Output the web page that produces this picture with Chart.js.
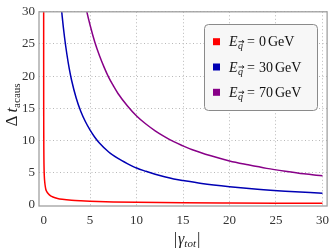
<!DOCTYPE html>
<html>
<head>
  <meta charset="UTF-8">
  <title>Delta t acaus</title>
  <script src="https://cdn.jsdelivr.net/npm/chart.js"></script>
  <style>
    html, body { margin: 0; padding: 0; background: #fff; }
    #wrap { width: 336px; height: 250px; }
  </style>
</head>
<body>
  <div id="wrap"><canvas id="grafico" width="336" height="250"></canvas></div>

  <script>
    // valores
    const xTicks = [0, 5, 10, 15, 20, 25, 30];
    const yTicks = [0, 5, 10, 15, 20, 25, 30];

    const gammaRed = [0.0015, 0.003, 0.006, 0.01, 0.02, 0.04, 0.07, 0.1, 0.15, 0.23, 0.35, 0.5, 0.75, 1, 1.5, 2, 3, 4, 5, 7.5, 10, 15, 20, 25, 30];
    const deltaRed = [31, 22, 15.5, 12, 8.5, 6, 4.5, 3.8, 3.1, 2.4, 2.0, 1.7, 1.38, 1.2, 0.98, 0.85, 0.69, 0.6, 0.54, 0.44, 0.38, 0.31, 0.27, 0.24, 0.22];

    const gammaBlue = [1.8, 2, 2.25, 2.5, 2.75, 3, 3.5, 4, 4.5, 5, 5.5, 6, 7, 8, 9, 10, 11, 12, 13, 14, 15, 17, 20, 23, 26, 30];
    const deltaBlue = [32.5, 29.2, 26, 23.4, 21.2, 19.4, 16.6, 14.5, 12.9, 11.6, 10.5, 9.6, 8.2, 7.2, 6.4, 5.7, 5.2, 4.75, 4.35, 4.0, 3.75, 3.3, 2.8, 2.4, 2.1, 1.8];

    const gammaPurple = [4.4, 4.6, 5, 5.5, 6, 6.5, 7, 7.5, 8, 9, 10, 11, 12, 13, 14, 15, 16, 18, 20, 22, 24, 26, 28, 30];
    const deltaPurple = [31.7, 30.3, 27.9, 25.3, 23.2, 21.4, 19.8, 18.5, 17.3, 15.4, 13.8, 12.55, 11.5, 10.6, 9.8, 9.15, 8.55, 7.6, 6.8, 6.2, 5.65, 5.2, 4.8, 4.5];

    const legendValues = ['0', '30', '70'];
    const colors = ['#ff0000', '#0000b4', '#880088'];

    function pontos(xs, ys) {
      return xs.map((x, i) => ({ x: x, y: ys[i] }));
    }

    const serif = '"Liberation Serif", "DejaVu Serif", serif';

    // desenha texto com partes (italico, subscrito...)
    function texto(ctx, partes, x, y) {
      partes.forEach(p => {
        ctx.font = p.font;
        ctx.fillText(p.t, x, y + (p.dy || 0));
        x += ctx.measureText(p.t).width + (p.gap || 0);
      });
      return x;
    }

    const extras = {
      id: 'extras',
      afterDraw(chart) {
        const ctx = chart.ctx;
        const a = chart.chartArea;
        ctx.save();

        // moldura
        ctx.strokeStyle = '#a0a0a0';
        ctx.lineWidth = 1.3;
        ctx.strokeRect(a.left, a.top, a.right - a.left, a.bottom - a.top);

        // legenda
        const lx = 204.5, ly = 24.5, lw = 113, lh = 86;
        ctx.beginPath();
        ctx.roundRect(lx, ly, lw, lh, 4);
        ctx.fillStyle = '#f7f7f7';
        ctx.fill();
        ctx.strokeStyle = '#8a8a8a';
        ctx.lineWidth = 1;
        ctx.stroke();

        ctx.textBaseline = 'alphabetic';
        ctx.textAlign = 'left';
        legendValues.forEach((v, i) => {
          const cy = 41.7 + i * 25.3;
          ctx.fillStyle = colors[i];
          ctx.fillRect(213, cy - 3.5, 7, 7);
          ctx.fillStyle = '#111';
          let x = 229;
          const base = cy + 4.5;
          x = texto(ctx, [{ t: 'E', font: 'italic 14px ' + serif }], x, base);
          ctx.font = 'italic 10px ' + serif;
          const qx = x + 0.5;
          texto(ctx, [{ t: 'q', font: 'italic 10px ' + serif }], qx, base + 3);
          const qw = ctx.measureText('q').width;
          // seta do vetor
          ctx.strokeStyle = '#111';
          ctx.lineWidth = 0.8;
          ctx.beginPath();
          ctx.moveTo(qx + 0.5, base - 4.5);
          ctx.lineTo(qx + qw + 1, base - 4.5);
          ctx.moveTo(qx + qw - 1, base - 6);
          ctx.lineTo(qx + qw + 1, base - 4.5);
          ctx.lineTo(qx + qw - 1, base - 3);
          ctx.stroke();
          x = qx + qw + 4;
          x = texto(ctx, [{ t: '=', font: '14px ' + serif }], x, base);
          x += 4;
          x = texto(ctx, [{ t: v, font: '14px ' + serif }], x, base);
          x += 2;
          texto(ctx, [{ t: 'GeV', font: '14px ' + serif }], x, base);
        });

        // titulo do eixo x
        ctx.fillStyle = '#222';
        let partesX = [
          { t: '|', font: '17px ' + serif, gap: 1 },
          { t: 'γ', font: 'italic 16px ' + serif },
          { t: 'tot', font: 'italic 11px ' + serif, dy: 3, gap: 1 },
          { t: '|', font: '17px ' + serif }
        ];
        let largura = 0;
        partesX.forEach(p => { ctx.font = p.font; largura += ctx.measureText(p.t).width + (p.gap || 0); });
        texto(ctx, partesX, 187 - largura / 2, 244);

        // titulo do eixo y
        ctx.translate(17, 105);
        ctx.rotate(-Math.PI / 2);
        let partesY = [
          { t: 'Δ', font: '17px ' + serif, gap: 3 },
          { t: 't', font: 'italic 17px ' + serif },
          { t: 'acaus', font: '11px ' + serif, dy: 3 }
        ];
        largura = 0;
        partesY.forEach(p => { ctx.font = p.font; largura += ctx.measureText(p.t).width + (p.gap || 0); });
        texto(ctx, partesY, -largura / 2, 0);

        ctx.restore();
      }
    };

    const gridColor = ctx => ctx.tick && ctx.tick.value === 0 ? 'rgba(0,0,0,0)' : '#b8b8b8';

    new Chart(document.getElementById('grafico'), {
      type: 'line',
      data: {
        datasets: [
          { data: pontos(gammaRed, deltaRed), borderColor: colors[0] },
          { data: pontos(gammaBlue, deltaBlue), borderColor: colors[1] },
          { data: pontos(gammaPurple, deltaPurple), borderColor: colors[2] }
        ]
      },
      options: {
        responsive: false,
        animation: false,
        layout: { padding: { top: 8, right: 2, left: 0, bottom: 0 } },
        elements: {
          point: { radius: 0 },
          line: { borderWidth: 1.5, cubicInterpolationMode: 'monotone', fill: false }
        },
        plugins: { legend: { display: false }, tooltip: { enabled: false } },
        scales: {
          x: {
            type: 'linear',
            min: -0.5,
            max: 30.5,
            afterBuildTicks: s => { s.ticks = xTicks.map(v => ({ value: v })); },
            afterFit: s => { s.height = 44; },
            grid: { color: gridColor, lineWidth: 1, drawTicks: false },
            border: { display: false, dash: [1, 2.5] },
            ticks: { padding: 7, color: '#333', font: { family: serif, size: 13 }, maxRotation: 0 }
          },
          y: {
            type: 'linear',
            min: -0.2,
            max: 30,
            afterBuildTicks: s => { s.ticks = yTicks.map(v => ({ value: v })); },
            afterFit: s => { s.width = 39; },
            grid: { color: gridColor, lineWidth: 1, drawTicks: false },
            border: { display: false, dash: [1, 2.5] },
            ticks: { padding: 4, color: '#333', font: { family: serif, size: 13 } }
          }
        }
      },
      plugins: [extras]
    });
  </script>
</body>
</html>
